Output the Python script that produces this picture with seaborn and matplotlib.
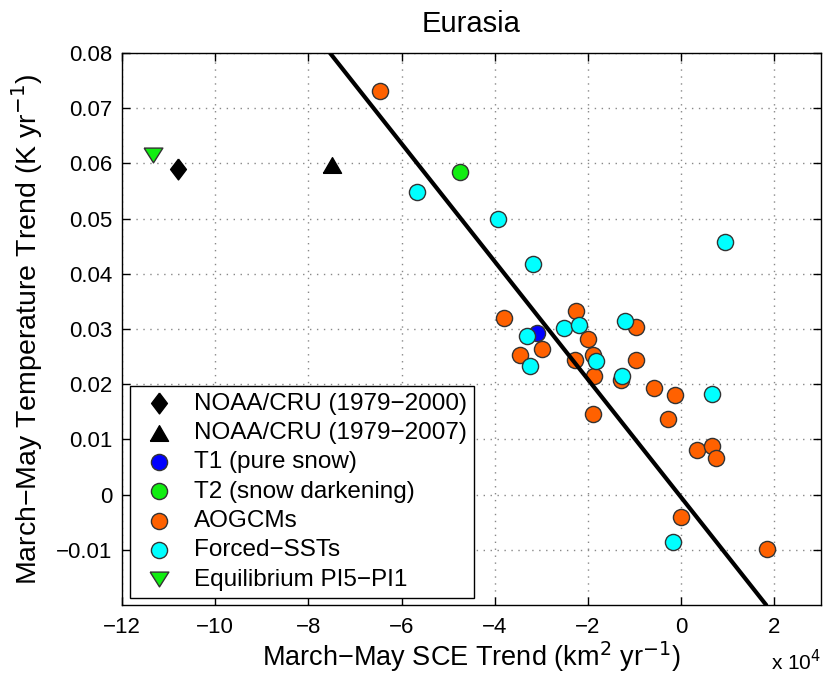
import numpy as np
import pandas as pd
import matplotlib
matplotlib.use("Agg")
import matplotlib.pyplot as plt
import seaborn as sns

# SCE trends in units of 1e4 km^2/yr, temperature trends in K/yr
obs_2000_x = [-10.81]
obs_2000_y = [0.0589]
obs_2007_x = [-7.50]
obs_2007_y = [0.0597]
t1_x = [-3.09]
t1_y = [0.0293]
t2_x = [-4.75]
t2_y = [0.0585]
aogcm_x = [-6.47, -3.80, -2.98, -3.46, -2.25, -1.99, -1.89, -2.28, -1.88, -1.89,
           -0.96, -0.96, -1.29, -0.59, -0.14, -0.29, 0.34, 0.66, 0.75, -0.01, 1.84]
aogcm_y = [0.0731, 0.0320, 0.0264, 0.0253, 0.0332, 0.0282, 0.0252, 0.0244, 0.0215, 0.0146,
           0.0303, 0.0244, 0.0208, 0.0193, 0.0181, 0.0137, 0.0080, 0.0088, 0.0067, -0.0041, -0.0099]
sst_x = [-5.66, -3.94, -3.17, 0.94, -3.31, -3.24, -2.52, -2.19, -1.83, -1.20, -1.26, 0.66, -0.18]
sst_y = [0.0549, 0.0500, 0.0417, 0.0457, 0.0287, 0.0233, 0.0301, 0.0308, 0.0242, 0.0315,
         0.0215, 0.0182, -0.0086]
equil_x = [-11.33]
equil_y = [0.0616]

# regression line: temperature trend vs SCE trend
fit_slope = -0.01068
fit_intercept = -0.0005

xticks = [-12, -10, -8, -6, -4, -2, 0, 2]
yticks = [-0.01, 0, 0.01, 0.02, 0.03, 0.04, 0.05, 0.06, 0.07, 0.08]

sns.set_theme(style="white")
plt.rcParams["font.family"] = ["Liberation Sans", "DejaVu Sans"]
plt.rcParams["text.color"] = "black"
plt.rcParams["axes.labelcolor"] = "black"
plt.rcParams["xtick.color"] = "black"
plt.rcParams["ytick.color"] = "black"

fig = plt.figure(figsize=(8.25, 6.77), dpi=100)
ax = fig.add_axes([0.148, 0.1064, 0.847, 0.8153])

ax.axline((0, fit_intercept), slope=fit_slope, color="black", lw=3, zorder=4)

# marker shapes (MATLAB-like proportions)
diamond = np.array([(0, 1), (0.76, 0), (0, -1), (-0.76, 0), (0, 1)])
tri_up = np.array([(-1, -0.866), (1, -0.866), (0, 0.866), (-1, -0.866)])
tri_down = np.array([(-1, 0.79), (1, 0.79), (0, -0.79), (-1, 0.79)])

edge = "#333333"
groups = [
    ("NOAA/CRU (1979\u22122000)", obs_2000_x, obs_2000_y, diamond, "black", 225, "black"),
    ("NOAA/CRU (1979\u22122007)", obs_2007_x, obs_2007_y, tri_up, "black", 170, "black"),
    ("T1 (pure snow)", t1_x, t1_y, "o", "#0000ff", 135, edge),
    ("T2 (snow darkening)", t2_x, t2_y, "o", "#11ee11", 135, edge),
    ("AOGCMs", aogcm_x, aogcm_y, "o", "#ff6100", 135, edge),
    ("Forced\u2212SSTs", sst_x, sst_y, "o", "#00ffff", 135, edge),
    ("Equilibrium PI5\u2212PI1", equil_x, equil_y, tri_down, "#11ee11", 182, edge),
]
for label, xs, ys, mk, col, s, ec in groups:
    df = pd.DataFrame({"x": xs, "y": ys})
    sns.scatterplot(data=df, x="x", y="y", marker=mk, color=col, s=s,
                    edgecolor=ec, linewidth=1.0, label=label, ax=ax, zorder=3)

ax.set_xlim(-12, 3)
ax.set_ylim(-0.02, 0.08)
ax.set_xticks(xticks)
ax.set_xticklabels([f"{t:d}".replace("-", "\u2212") for t in xticks])
ax.set_yticks(yticks)
ax.set_yticklabels([("0" if t == 0 else f"{t:.2f}").replace("-", "\u2212") for t in yticks])
ax.tick_params(direction="in", length=6, width=1, colors="black", labelsize=16,
               top=True, right=True, bottom=True, left=True)
ax.tick_params(axis="x", pad=9)
ax.tick_params(axis="y", pad=7)
ax.grid(True, linestyle=(0, (1, 4)), color="#888888", linewidth=1.0)
for sp in ax.spines.values():
    sp.set_color("black")
    sp.set_linewidth(1.0)

ax.set_title("Eurasia", fontsize=21, pad=15, color="black")
ax.set_xlabel("March\u2212May SCE Trend (km$^2$ yr$^{-1}$)", fontsize=19.5, labelpad=1)
ax.set_ylabel("March\u2212May Temperature Trend (K yr$^{-1}$)", fontsize=20.5, labelpad=8)
ax.text(1.0, -0.118, "x 10$^4$", transform=ax.transAxes, ha="right", va="baseline",
        fontsize=15, color="black")

leg = ax.legend(loc="lower left", bbox_to_anchor=(0.011, 0.0127), fontsize=17.5,
                frameon=True, fancybox=False, edgecolor="black", framealpha=1,
                handlelength=1.8, handletextpad=0.55, borderpad=0.3, labelspacing=0.3,
                borderaxespad=0.0, markerscale=1.0)
leg.get_frame().set_linewidth(1.0)
for t in leg.get_texts():
    t.set_color("black")

fig.savefig("out.png", dpi=100)
